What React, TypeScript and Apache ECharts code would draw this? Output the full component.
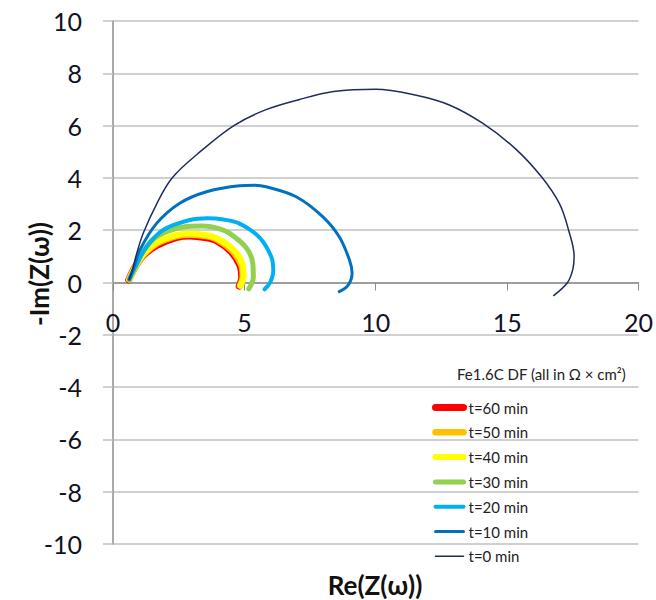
import React, { useEffect, useRef } from "react";
import * as echarts from "echarts";

// Nyquist data, [Re(Z), -Im(Z)] in Ω·cm²
const t60 = [[0.6,0.1],[0.82,0.55],[1.12,1.0],[1.66,1.42],[2.4,1.72],[2.92,1.78],[3.5,1.72],[3.94,1.6],[4.5,1.17],[4.83,0.65],[4.9,0.2],[4.8,-0.14]];
const t50 = [[0.62,0.12],[0.84,0.58],[1.14,1.04],[1.66,1.48],[2.4,1.77],[2.92,1.83],[3.5,1.78],[3.94,1.66],[4.53,1.22],[4.88,0.68],[4.94,0.22],[4.83,-0.12]];
const t40 = [[0.62,0.12],[0.85,0.6],[1.15,1.08],[1.66,1.53],[2.4,1.81],[2.92,1.87],[3.5,1.82],[3.94,1.7],[4.57,1.27],[4.93,0.7],[4.97,0.22],[4.85,-0.12]];
const t30 = [[0.62,0.12],[0.9,0.7],[1.2,1.27],[1.66,1.76],[2.67,2.12],[3.4,2.16],[4.0,2.07],[4.44,1.88],[5.07,1.33],[5.32,0.73],[5.34,0.2],[5.17,-0.24]];
const t20 = [[0.62,0.12],[0.9,0.7],[1.28,1.37],[1.91,2.01],[2.92,2.39],[3.6,2.46],[4.2,2.41],[4.82,2.25],[5.58,1.72],[6.02,0.99],[6.1,0.45],[5.98,0.0],[5.77,-0.26]];
const t10 = [[0.62,0.12],[0.8,0.6],[1.02,1.24],[1.66,2.26],[2.54,3.03],[3.56,3.47],[4.82,3.7],[5.4,3.72],[5.83,3.66],[6.97,3.28],[7.98,2.52],[8.61,1.75],[9.0,0.86],[9.1,0.35],[8.95,-0.1],[8.61,-0.35]];
const t0 = [[0.62,0.12],[0.72,0.4],[0.9,1.1],[1.15,1.88],[1.66,3.0],[2.25,4.0],[3.4,5.07],[4.6,6.0],[5.8,6.6],[7.1,7.0],[8.4,7.3],[10.0,7.39],[11.5,7.17],[12.8,6.79],[14.05,6.1],[15.3,5.13],[16.3,4.05],[17.0,3.0],[17.34,2.0],[17.55,1.0],[17.5,0.5],[17.3,0.0],[16.77,-0.5]];

const seriesNames = ["t=60 min", "t=50 min", "t=40 min", "t=30 min", "t=20 min", "t=10 min", "t=0 min"];
const seriesData = [t60, t50, t40, t30, t20, t10, t0];
const seriesColors = ["#FF0000", "#FFC000", "#FFFF00", "#92D050", "#00B0F0", "#0070C0", "#1F2D5C"];
const seriesWidths = [7, 6.5, 6, 5, 4, 3, 1.5];

const xTicks = { min: 0, max: 20, interval: 5 };
const yTicks = { min: -10, max: 10, interval: 2 };

const legendTitle = "Fe1.6C DF (all in Ω × cm²)";
const xTitle = "Re(Z(ω))";
const yTitle = "-Im(Z(ω))";

const FONT = "Lato, 'Open Sans', sans-serif";

const GRID = { left: 113, right: 16, top: 21, bottom: 56 };
const CHART_H = 600;

export default function App() {
  const ref = useRef<HTMLDivElement>(null);
  useEffect(() => {
    if (!ref.current) return;
    const chart = echarts.init(ref.current, null, { renderer: "svg" });
    // place the x axis where -Im(Z) = 0 (axis crossing like the original)
    const plotH = CHART_H - GRID.top - GRID.bottom;
    const zeroOffset = -plotH * (0 - yTicks.min) / (yTicks.max - yTicks.min);
    chart.setOption({
      animation: false,
      backgroundColor: "#ffffff",
      grid: GRID,
      xAxis: {
        type: "value",
        position: "bottom",
        offset: zeroOffset,
        min: xTicks.min,
        max: xTicks.max,
        interval: xTicks.interval,
        axisLine: { show: true, onZero: false, lineStyle: { color: "#8C8C8C", width: 1.5 } },
        axisTick: { show: true, length: 8, lineStyle: { color: "#8C8C8C", width: 1 } },
        axisLabel: { fontSize: 25, margin: 27, color: "#111122", fontFamily: FONT },
        splitLine: { show: false },
      },
      yAxis: {
        type: "value",
        min: yTicks.min,
        max: yTicks.max,
        interval: yTicks.interval,
        axisLine: { show: true, onZero: false, lineStyle: { color: "#8C8C8C", width: 1.5 } },
        axisTick: { show: true, length: 10, lineStyle: { color: "#C0C0C0", width: 1.5 } },
        axisLabel: { fontSize: 25, margin: 31, color: "#111122", fontFamily: FONT },
        splitLine: { show: true, lineStyle: { color: "#C0C0C0", width: 1.5 } },
      },
      legend: {
        orient: "vertical",
        left: 427,
        top: 395,
        itemWidth: 28,
        itemHeight: 14,
        itemGap: 9.8,
        itemStyle: { opacity: 0 },
        lineStyle: { width: "inherit" },
        textStyle: { fontSize: 15, color: "#222222", fontFamily: FONT },
        data: seriesNames,
      },
      graphic: [
        {
          type: "text",
          left: 457,
          top: 366,
          style: { text: legendTitle, fontSize: 15, fill: "#222222", fontFamily: FONT },
        },
        {
          type: "text",
          x: 39,
          y: 274,
          rotation: Math.PI / 2,
          style: { text: yTitle, fontSize: 26, fontWeight: "bold", fill: "#111111", fontFamily: FONT, textAlign: "center", textVerticalAlign: "middle" },
        },
        {
          type: "text",
          x: 375,
          y: 585,
          style: { text: xTitle, fontSize: 26, fontWeight: "bold", fill: "#111111", fontFamily: FONT, textAlign: "center", textVerticalAlign: "middle" },
        },
      ],
      series: seriesNames.map((name, i) => ({
        name,
        type: "line",
        data: seriesData[i],
        smooth: 0.35,
        symbol: "none",
        showSymbol: false,
        color: seriesColors[i],
        lineStyle: { color: seriesColors[i], width: seriesWidths[i], cap: "round", join: "round" },
      })),
    });
    return () => chart.dispose();
  }, []);
  return <div ref={ref} style={{ position: "fixed", left: 0, top: 0, width: 656, height: CHART_H }} />;
}
